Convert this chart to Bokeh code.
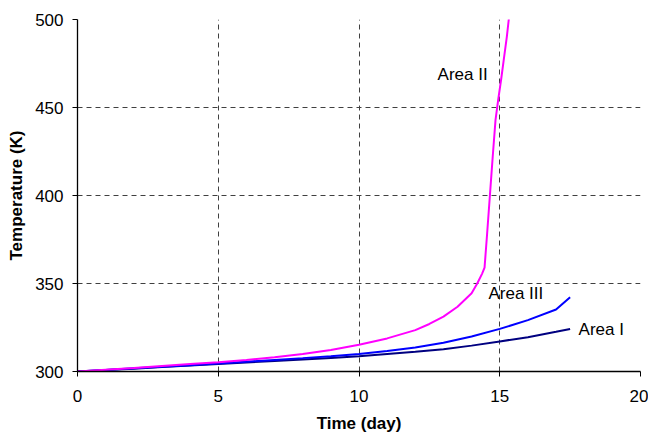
from bokeh.plotting import figure
from bokeh.models import Range1d, FixedTicker, Label
from bokeh.embed import file_html
from bokeh.resources import INLINE

# Data (time in days, temperature in K)
t_area1 = [0, 1, 2, 3, 4, 5, 6, 7, 8, 9, 10, 11, 12, 13, 14, 15, 16, 17, 17.5]
T_area1 = [300, 300.8, 301.6, 302.5, 303.4, 304.3, 305.1, 306.0, 306.8, 307.7,
           308.6, 309.9, 311.2, 312.7, 314.7, 317.1, 319.5, 322.6, 324.2]

t_area3 = [0, 1, 2, 3, 4, 5, 6, 7, 8, 9, 10, 11, 12, 13, 14, 15, 16, 17, 17.5]
T_area3 = [300, 300.9, 301.8, 302.7, 303.6, 304.6, 305.6, 306.6, 307.6, 308.7,
           309.9, 311.6, 313.6, 316.3, 319.9, 324.2, 329.2, 335.2, 342.2]

t_area2 = [0, 1, 2, 3, 4, 5, 6, 7, 8, 9, 10, 11, 12, 12.5, 13, 13.5, 14, 14.2,
           14.37, 14.46, 14.55, 14.65, 14.75, 14.85, 14.95, 15.05, 15.15, 15.25, 15.32, 15.4]
T_area2 = [300, 301.0, 302.0, 303.1, 304.2, 305.3, 306.6, 308.1, 309.9, 312.2,
           315.2, 318.8, 323.5, 327.0, 331.2, 336.8, 344.5, 350.0,
           355.5, 359, 378, 400, 422, 443, 455, 466, 478, 490, 500, 510]

x_ticks = [0, 5, 10, 15, 20]
y_ticks = [300, 350, 400, 450, 500]

p = figure(output_backend="svg", toolbar_location=None,
           frame_width=563, frame_height=352,
           min_border_left=77, min_border_right=8, min_border_top=19, min_border_bottom=60,
           x_range=Range1d(0, 20), y_range=Range1d(300, 500),
           background_fill_color="white", border_fill_color="white")
p.outline_line_color = None

for ax in (p.xaxis[0], p.yaxis[0]):
    ax.axis_line_color = "black"
    ax.axis_line_width = 1.3
    ax.major_tick_line_color = "black"
    ax.major_tick_in = 0
    ax.major_tick_out = 5
    ax.minor_tick_line_color = None
    ax.major_label_text_font = "Liberation Sans"
    ax.major_label_text_font_size = "17px"
    ax.major_label_text_color = "black"
    ax.axis_label_text_font = "Liberation Sans"
    ax.axis_label_text_font_size = "17px"
    ax.axis_label_text_font_style = "bold"
    ax.axis_label_text_color = "black"

p.xaxis.ticker = FixedTicker(ticks=x_ticks)
p.yaxis.ticker = FixedTicker(ticks=y_ticks)
p.xaxis.axis_label = "Time (day)"
p.yaxis.axis_label = "Temperature (K)"
p.xaxis.major_label_standoff = 13
p.yaxis.major_label_standoff = 9
p.xaxis.axis_label_standoff = 9
p.yaxis.axis_label_standoff = 6

p.xgrid.ticker = FixedTicker(ticks=[5, 10, 15])
p.ygrid.ticker = FixedTicker(ticks=[350, 400, 450, 500])
for g in (p.xgrid[0], p.ygrid[0]):
    g.grid_line_color = "#404040"
    g.grid_line_dash = "5 4"
    g.grid_line_width = 1

p.line(t_area1, T_area1, line_color="#000080", line_width=2)
p.line(t_area3, T_area3, line_color="#0000FF", line_width=2)
p.line(t_area2, T_area2, line_color="#FF00FF", line_width=2)

label_style = dict(text_font="Liberation Sans", text_font_size="17px",
                   text_color="black", text_baseline="middle")
p.add_layout(Label(x=12.79, y=468.5, text="Area II", **label_style))
p.add_layout(Label(x=14.6, y=344.5, text="Area III", **label_style))
p.add_layout(Label(x=17.8, y=324, text="Area I", **label_style))

open("out.html", "w").write(file_html(p, INLINE))
